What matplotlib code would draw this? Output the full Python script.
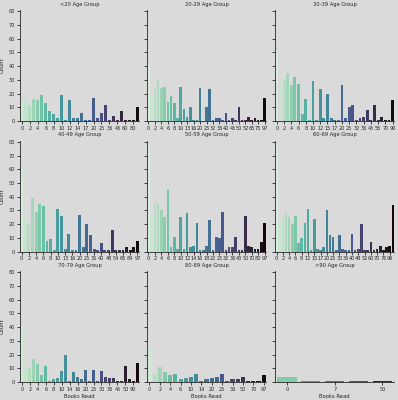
import numpy as np
import matplotlib
matplotlib.use("Agg")
import matplotlib.pyplot as plt
import seaborn as sns

# books read per age group: categories (only the ones present in each group) and counts
titles = ["<20 Age Group", "20-29 Age Group", "30-39 Age Group",
          "40-49 Age Group", "50-59 Age Group", "60-69 Age Group",
          "70-79 Age Group", "80-89 Age Group", ">90 Age Group"]

books_u20 = [0, 1, 2, 3, 4, 5, 6, 7, 8, 9, 10, 11, 12, 13, 14, 15, 17, 18, 20, 24,
             25, 30, 36, 40, 45, 50, 60, 70, 80, 100]
count_u20 = [14, 16, 11, 16, 15, 19, 13, 7, 5, 2, 19, 1, 15, 2, 2, 6, 1, 1, 17, 2,
             6, 12, 1, 4, 1, 7, 1, 1, 1, 10]

books_20s = [0, 1, 2, 3, 4, 5, 6, 7, 8, 9, 10, 12, 13, 15, 16, 18, 20, 24, 25, 30,
             32, 35, 36, 38, 40, 42, 45, 48, 50, 51, 52, 60, 65, 70, 75, 80, 97]
count_20s = [41, 19, 24, 31, 24, 25, 14, 18, 13, 2, 25, 9, 3, 10, 1, 1, 24, 0, 10, 23,
             1, 2, 2, 1, 6, 1, 2, 1, 10, 1, 1, 3, 1, 2, 1, 1, 17]

books_30s = [0, 1, 2, 3, 4, 5, 6, 7, 8, 9, 10, 11, 12, 14, 15, 16, 17, 18, 20, 24,
             25, 30, 32, 35, 36, 40, 45, 50, 55, 60, 70, 80, 90]
count_30s = [51, 28, 30, 35, 26, 32, 27, 5, 16, 1, 29, 1, 23, 2, 20, 2, 1, 1, 26, 2,
             10, 12, 1, 2, 3, 8, 1, 12, 1, 3, 1, 1, 15]

books_40s = [0, 1, 2, 3, 4, 5, 6, 7, 8, 9, 10, 12, 13, 15, 16, 18, 20, 24, 25, 30,
             35, 36, 40, 45, 48, 50, 54, 60, 65, 80, 84, 90, 97]
count_40s = [60, 24, 20, 39, 29, 35, 33, 8, 9, 1, 31, 26, 2, 13, 1, 1, 27, 3, 20, 12,
             2, 1, 6, 1, 1, 16, 1, 1, 1, 3, 1, 3, 8]

books_50s = [0, 1, 2, 3, 4, 5, 6, 7, 8, 9, 10, 11, 12, 13, 14, 15, 16, 17, 18, 20,
             22, 24, 25, 30, 32, 35, 36, 40, 43, 45, 50, 60, 70, 75, 80, 90, 97]
count_50s = [77, 26, 37, 35, 30, 25, 45, 3, 11, 2, 25, 2, 28, 3, 4, 21, 1, 1, 4, 23,
             1, 11, 10, 29, 1, 3, 3, 11, 1, 1, 26, 4, 3, 2, 2, 7, 21]

books_60s = [0, 1, 2, 3, 4, 5, 6, 7, 8, 10, 12, 14, 15, 16, 17, 18, 20, 24, 25, 28,
             30, 35, 36, 38, 40, 45, 48, 50, 52, 55, 60, 65, 70, 75, 76, 80, 96, 100]
count_60s = [77, 21, 26, 28, 25, 20, 26, 6, 10, 21, 31, 1, 24, 2, 1, 3, 30, 12, 11, 1,
             12, 2, 1, 1, 13, 1, 2, 20, 1, 1, 7, 1, 2, 4, 1, 3, 4, 34]

books_70s = [0, 1, 2, 3, 4, 5, 6, 7, 8, 9, 10, 12, 14, 15, 16, 18, 20, 24, 25, 28,
             30, 35, 36, 40, 45, 48, 50, 60, 90, 100]
count_70s = [40, 9, 10, 17, 13, 5, 12, 1, 2, 3, 8, 20, 1, 7, 4, 2, 9, 1, 9, 1,
             8, 4, 3, 3, 1, 1, 12, 2, 1, 14]

books_80s = [0, 1, 2, 3, 4, 5, 6, 8, 10, 12, 14, 15, 20, 24, 25, 30, 36, 40, 50, 60,
             70, 80, 97]
count_80s = [25, 6, 11, 7, 5, 6, 2, 3, 4, 6, 1, 2, 3, 4, 6, 1, 2, 2, 4, 1,
             1, 1, 5]

books_90p = [0, 2, 7, 20, 50]
count_90p = [4, 1, 1, 1, 1]

books = [books_u20, books_20s, books_30s, books_40s, books_50s, books_60s,
         books_70s, books_80s, books_90p]
counts = [count_u20, count_20s, count_30s, count_40s, count_50s, count_60s,
          count_70s, count_80s, count_90p]

bg = "#dadada"
txt = "#262626"

plt.rcParams.update({
    "font.family": "DejaVu Sans",
    "font.size": 3.6,
    "axes.edgecolor": txt,
    "axes.linewidth": 0.6,
    "xtick.color": txt,
    "ytick.color": txt,
    "xtick.major.size": 2,
    "ytick.major.size": 2,
    "xtick.major.width": 0.6,
    "ytick.major.width": 0.6,
    "xtick.major.pad": 1.5,
    "ytick.major.pad": 1.5,
    "xtick.labelsize": 3.6,
    "ytick.labelsize": 3.6,
})

fig = plt.figure(figsize=(3.98, 4.0), dpi=100, facecolor=bg)

lefts = [0.050, 0.369, 0.691]
bottoms = [0.6975, 0.371, 0.045]
w, h = 0.30, 0.2775

for i in range(9):
    r, c = divmod(i, 3)
    ax = fig.add_axes([lefts[c], bottoms[r], w, h], facecolor=bg)
    n = len(books[i])
    # seaborn-style muted bars (saturation .75)
    pal = [sns.desaturate(col, 0.75) for col in sns.color_palette("mako_r", n)]
    x = np.arange(n)
    ax.bar(x, counts[i], width=0.8, color=pal)
    ax.set_xlim(-0.5, n - 0.5)
    ax.set_ylim(0, 81)
    ax.set_yticks(range(0, 81, 10))
    ax.set_xticks(x[::2])
    ax.set_xticklabels([str(b) for b in books[i][::2]])
    ax.spines["top"].set_visible(False)
    ax.spines["right"].set_visible(False)
    ax.set_title(titles[i], fontsize=3.7, color=txt, pad=3)
    if c == 0:
        ax.set_ylabel("Count", fontsize=3.8, color=txt, labelpad=2.5)
    else:
        ax.set_yticklabels([])
    if r == 2:
        ax.set_xlabel("Books Read", fontsize=3.8, color=txt, labelpad=1.5)

plt.savefig("out.png", dpi=100, facecolor=bg)
